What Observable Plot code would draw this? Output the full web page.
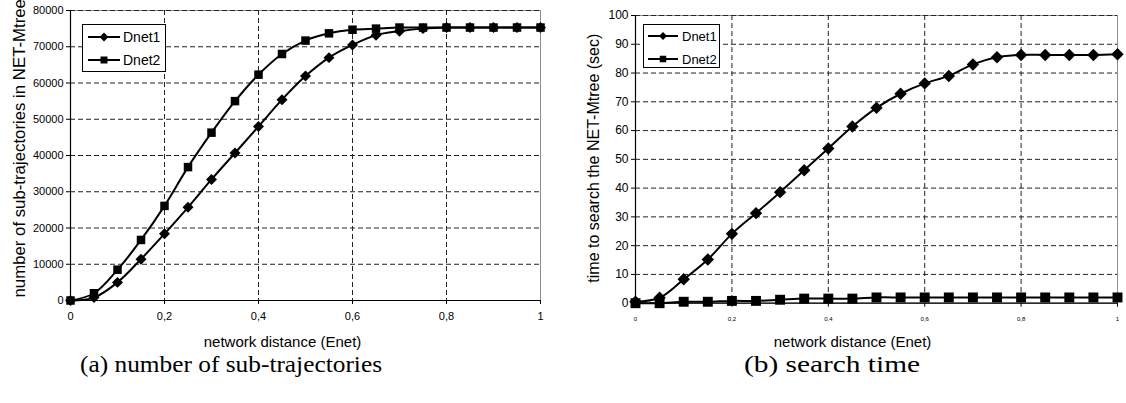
<!DOCTYPE html>
<html><head><meta charset="utf-8">
<script src="https://cdn.jsdelivr.net/npm/d3@7"></script>
<script src="https://cdn.jsdelivr.net/npm/@observablehq/plot@0.6"></script>
<style>
body{margin:0;background:#fff;}
#wrap{position:relative;width:1126px;height:403px;overflow:hidden;background:#fff;font-family:"Liberation Sans",Arial,sans-serif;}
.chart{position:absolute;top:0;}
.chart text{font-family:"Liberation Sans",Arial,sans-serif;}
.legend{position:absolute;border:1px solid #000;background:#fff;box-sizing:border-box;}
#captions{position:absolute;left:0;top:0;}
#captions text{font-family:"Liberation Serif","Times New Roman",serif;}
</style></head>
<body><div id="wrap"></div>
<script>
// ---- data ----
const distance = [0,0.05,0.1,0.15,0.2,0.25,0.3,0.35,0.4,0.45,0.5,0.55,0.6,0.65,0.7,0.75,0.8,0.85,0.9,0.95,1];
const seriesNames = ["Dnet1","Dnet2"];
const subDnet1 = [0,800,5000,11400,18400,25700,33400,40700,48000,55400,61900,67000,70500,73200,74300,75000,75300,75300,75300,75300,75300];
const subDnet2 = [0,2000,8500,16700,26100,36800,46300,55000,62300,68000,71700,73700,74700,75000,75300,75300,75300,75300,75300,75300,75300];
const timeDnet1 = [0.5,1.9,8.3,15.2,24.1,31.3,38.6,46.2,53.8,61.4,67.9,72.8,76.4,79,83,85.5,86.3,86.3,86.3,86.3,86.5];
const timeDnet2 = [0,0,0.5,0.5,0.8,0.8,1.2,1.6,1.6,1.6,2,2,2,2,2,2,2,2,2,2,2];
const xTicks = [0,0.2,0.4,0.6,0.8,1];
const subTicks = [0,10000,20000,30000,40000,50000,60000,70000,80000];
const timeTicks = [0,10,20,30,40,50,60,70,80,90,100];
const xTitle = "network distance (Enet)";
const subTitle = "number of sub-trajectories in NET-Mtree";
const timeTitle = "time to search the NET-Mtree (sec)";
const captionA = "(a) number of sub-trajectories";
const captionB = "(b) search time";

const fmt = d => String(d).replace(".", ",");
const rowsOf = (a, b) => [
  ...distance.map((x, i) => ({x, y: a[i], series: seriesNames[0]})),
  ...distance.map((x, i) => ({x, y: b[i], series: seriesNames[1]}))
];
const dash = "5,3";
const FONT = "Liberation Sans";

function makeChart(o) {
  const rows = rowsOf(o.a, o.b);
  return Plot.plot({
    width: o.width, height: 350,
    marginLeft: o.ml, marginRight: o.mr, marginTop: o.mt, marginBottom: 350 - o.bottom,
    style: {fontFamily: FONT, background: "transparent", overflow: "visible"},
    x: {domain: [0, 1]},
    y: {domain: [0, o.yTicks[o.yTicks.length - 1]]},
    marks: [
      Plot.frame({stroke: "#8c8c8c", strokeWidth: 1}),
      Plot.gridY(o.yTicks.filter(d => d > 0), {stroke: "#222", strokeOpacity: 1, strokeDasharray: dash, strokeWidth: 1}),
      Plot.gridX(xTicks.filter(d => d > 0 && d < 1), {stroke: "#222", strokeOpacity: 1, strokeDasharray: dash, strokeWidth: 1}),
      Plot.ruleX([0], {stroke: "#000", strokeWidth: 1.2}),
      Plot.ruleY([0], {stroke: "#000", strokeWidth: 1.2}),
      Plot.axisX(xTicks, {tickFormat: fmt, tickSize: 4, tickPadding: o.xPad, fontSize: o.xFont, label: null}),
      Plot.axisY(o.yTicks, {tickFormat: d => String(d), tickSize: 4, tickPadding: 3, fontSize: o.yFont, label: null}),
      Plot.line(rows, {x: "x", y: "y", z: "series", curve: "catmull-rom", stroke: "#000", strokeWidth: 2}),
      Plot.dot(rows.filter(d => d.series === "Dnet2"), {x: "x", y: "y", symbol: () => "square", fill: "#000", stroke: "none", r: o.rSq}),
      Plot.dot(rows.filter(d => d.series === "Dnet1"), {x: "x", y: "y", symbol: () => "diamond2", fill: "#000", stroke: "none", r: o.rDi}),
      Plot.text([xTitle], {frameAnchor: "bottom", dx: o.xtDx, dy: o.xtDy, fontSize: 15, fill: "#000", lineAnchor: "middle"}),
      Plot.text([o.yTitle], {frameAnchor: "bottom-left", rotate: -90, textAnchor: o.ytAnchor, dx: o.ytDx, dy: o.ytDy, fontSize: o.ytFont, fill: "#000", lineAnchor: "middle"})
    ]
  });
}

const wrap = document.getElementById("wrap");

const left = makeChart({width: 560, ml: 70, mr: 20, mt: 10, bottom: 300, a: subDnet1, b: subDnet2, yTicks: subTicks,
  xPad: 8, xFont: 11, yFont: 11, rSq: 4.8, rDi: 4.95, xtDx: -23, xtDy: 42,
  yTitle: subTitle, ytAnchor: "start", ytDx: -51, ytDy: -3, ytFont: 16.8});
left.classList.add("chart"); left.style.left = "0px";
wrap.appendChild(left);

const right = makeChart({width: 566, ml: 75, mr: 9, mt: 15, bottom: 302.7, a: timeDnet1, b: timeDnet2, yTicks: timeTicks,
  xPad: 10, xFont: 6, yFont: 12, rSq: 5.6, rDi: 5.6, xtDx: -24, xtDy: 39,
  yTitle: timeTitle, ytAnchor: "middle", ytDx: -42, ytDy: -145, ytFont: 16});
right.classList.add("chart"); right.style.left = "560px";
wrap.appendChild(right);

// legends
function legend(x, y, w, h, lx0, lx1, rows, fs, dSize, sSize, tx) {
  const div = document.createElement("div");
  div.className = "legend";
  Object.assign(div.style, {left: x + "px", top: y + "px", width: w + "px", height: h + "px"});
  const ns = "http://www.w3.org/2000/svg";
  const svg = document.createElementNS(ns, "svg");
  svg.setAttribute("width", w); svg.setAttribute("height", h);
  svg.style.position = "absolute"; svg.style.left = "-1px"; svg.style.top = "-1px";
  seriesNames.forEach((name, i) => {
    const yy = rows[i];
    const ln = document.createElementNS(ns, "line");
    ln.setAttribute("x1", lx0); ln.setAttribute("x2", lx1); ln.setAttribute("y1", yy); ln.setAttribute("y2", yy);
    ln.setAttribute("stroke", "#000"); ln.setAttribute("stroke-width", 2);
    svg.appendChild(ln);
    const cx = (lx0 + lx1) / 2;
    const p = document.createElementNS(ns, "path");
    if (i === 0) {
      const r = dSize / 2;
      p.setAttribute("d", `M${cx},${yy - r}L${cx + r},${yy}L${cx},${yy + r}L${cx - r},${yy}Z`);
    } else {
      const r = sSize / 2;
      p.setAttribute("d", `M${cx - r},${yy - r}h${sSize}v${sSize}h${-sSize}Z`);
    }
    p.setAttribute("fill", "#000");
    svg.appendChild(p);
    const t = document.createElementNS(ns, "text");
    t.setAttribute("x", tx); t.setAttribute("y", yy); t.setAttribute("dy", "0.35em");
    t.setAttribute("font-size", fs); t.setAttribute("font-family", FONT);
    t.textContent = name;
    svg.appendChild(t);
  });
  div.appendChild(svg);
  wrap.appendChild(div);
}
legend(82, 24, 84, 48, 6, 38, [13, 36], 14, 9, 7, 41);
legend(643, 24, 77, 44, 5, 35, [12, 35], 13, 8, 6.5, 39);

// captions
(function() {
  const ns = "http://www.w3.org/2000/svg";
  const svg = document.createElementNS(ns, "svg");
  svg.setAttribute("width", 1126); svg.setAttribute("height", 403);
  svg.id = "captions";
  [[captionA, 80, 302], [captionB, 744, 176]].forEach(([s, x, w]) => {
    const t = document.createElementNS(ns, "text");
    t.setAttribute("x", x); t.setAttribute("y", 372);
    t.setAttribute("font-size", 23);
    t.setAttribute("textLength", w);
    t.setAttribute("lengthAdjust", "spacingAndGlyphs");
    t.textContent = s;
    svg.appendChild(t);
  });
  wrap.appendChild(svg);
})();
</script>
</body></html>
